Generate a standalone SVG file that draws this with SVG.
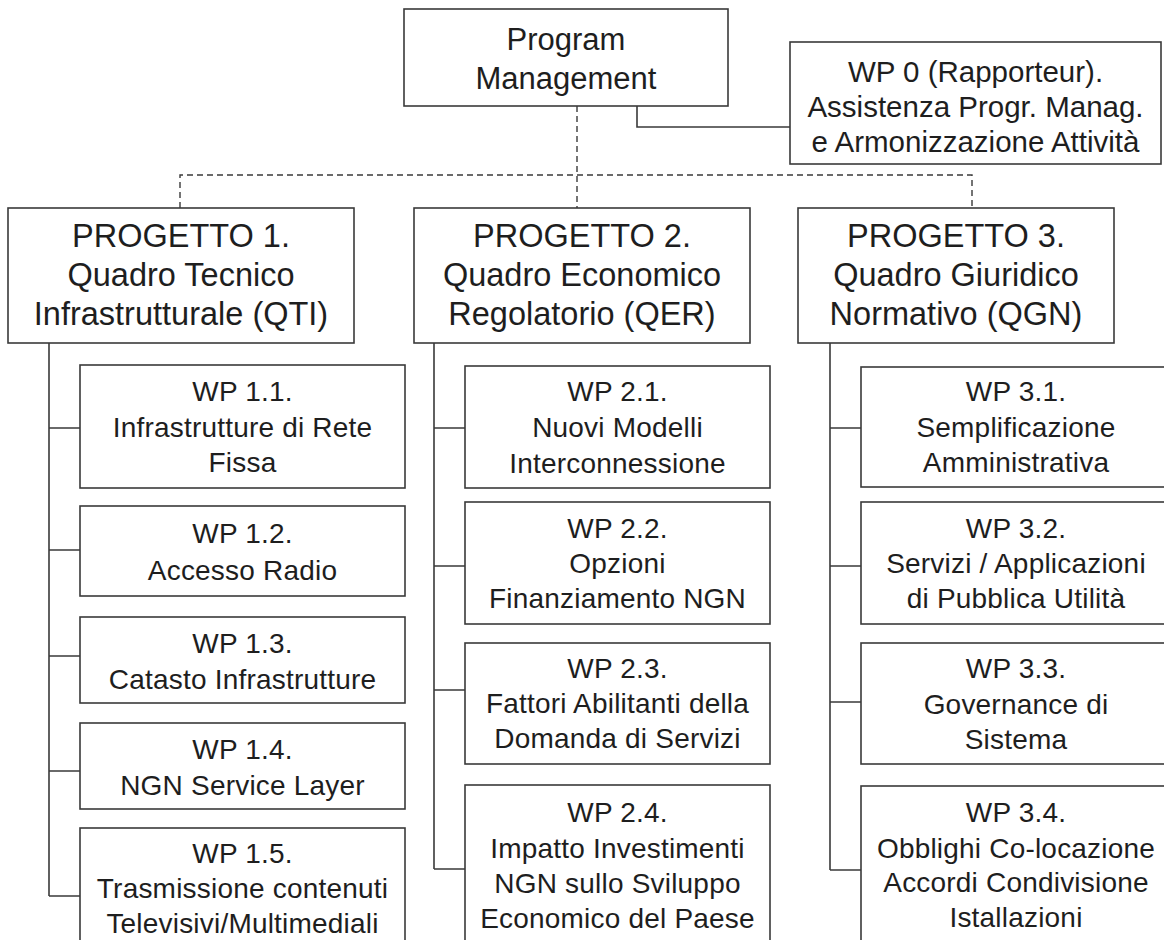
<svg xmlns="http://www.w3.org/2000/svg" width="1164" height="940" viewBox="0 0 1164 940">
<style>
rect{fill:#fff;stroke:#3a3a3a;stroke-width:1.6}
text{font-family:"Liberation Sans",Arial,sans-serif;fill:#1e1e1e;text-anchor:middle}
.pm{font-size:31px}
.big{font-size:32.5px}
.w0{font-size:29.5px}
.wp{font-size:28px;letter-spacing:0.2px}
.c{fill:none;stroke:#3a3a3a;stroke-width:1.6}
.d{fill:none;stroke:#3a3a3a;stroke-width:1.4;stroke-dasharray:6 4}
</style>
<rect x="0" y="0" width="1164" height="940" style="stroke:none"/>
<g id="connectors">
<path class="d" d="M577,106V208M180,208V175H972V208"/>
<path class="c" d="M637,106V127H790"/>
<path class="c" d="M49,343V896M49,428H80M49,550H80M49,656H80M49,771H80M49,896H80"/>
<path class="c" d="M434,343V869M434,428H465M434,566H465M434,690H465M434,869H465"/>
<path class="c" d="M830,343V870M830,428H861M830,566H861M830,702H861M830,870H861"/>
</g>
<g id="pm"><rect x="404" y="9" width="324" height="97"/><text class="pm" x="566" y="50">Program</text><text class="pm" x="566" y="89">Management</text></g>
<g id="wp0"><rect x="790" y="42" width="371" height="122"/><text class="w0" x="975.5" y="82">WP 0 (Rapporteur).</text><text class="w0" x="975.5" y="117">Assistenza Progr. Manag.</text><text class="w0" x="975.5" y="152">e Armonizzazione Attività</text></g>
<g id="p1"><rect x="8" y="208" width="346" height="135"/><text class="big" x="181" y="247">PROGETTO 1.</text><text class="big" x="181" y="286">Quadro Tecnico</text><text class="big" x="181" y="325">Infrastrutturale (QTI)</text></g>
<g id="p2"><rect x="414" y="208" width="336" height="135"/><text class="big" x="582" y="247">PROGETTO 2.</text><text class="big" x="582" y="286">Quadro Economico</text><text class="big" x="582" y="325">Regolatorio (QER)</text></g>
<g id="p3"><rect x="798" y="208" width="316" height="135"/><text class="big" x="956" y="247">PROGETTO 3.</text><text class="big" x="956" y="286">Quadro Giuridico</text><text class="big" x="956" y="325">Normativo (QGN)</text></g>
<g id="wp11"><rect x="80" y="365" width="325" height="123"/><text class="wp" x="242.5" y="401">WP 1.1.</text><text class="wp" x="242.5" y="437">Infrastrutture di Rete</text><text class="wp" x="242.5" y="472">Fissa</text></g>
<g id="wp12"><rect x="80" y="506" width="325" height="90"/><text class="wp" x="242.5" y="543">WP 1.2.</text><text class="wp" x="242.5" y="580">Accesso Radio</text></g>
<g id="wp13"><rect x="80" y="617" width="325" height="86"/><text class="wp" x="242.5" y="653">WP 1.3.</text><text class="wp" x="242.5" y="689">Catasto Infrastrutture</text></g>
<g id="wp14"><rect x="80" y="723" width="325" height="86"/><text class="wp" x="242.5" y="759">WP 1.4.</text><text class="wp" x="242.5" y="795">NGN Service Layer</text></g>
<g id="wp15"><rect x="80" y="828" width="325" height="122"/><text class="wp" x="242.5" y="863">WP 1.5.</text><text class="wp" x="242.5" y="898">Trasmissione contenuti</text><text class="wp" x="242.5" y="933">Televisivi/Multimediali</text></g>
<g id="wp21"><rect x="465" y="366" width="305" height="122"/><text class="wp" x="617.5" y="401">WP 2.1.</text><text class="wp" x="617.5" y="437">Nuovi Modelli</text><text class="wp" x="617.5" y="473">Interconnessione</text></g>
<g id="wp22"><rect x="465" y="502" width="305" height="122"/><text class="wp" x="617.5" y="538">WP 2.2.</text><text class="wp" x="617.5" y="573">Opzioni</text><text class="wp" x="617.5" y="608">Finanziamento NGN</text></g>
<g id="wp23"><rect x="465" y="643" width="305" height="121"/><text class="wp" x="617.5" y="678">WP 2.3.</text><text class="wp" x="617.5" y="713">Fattori Abilitanti della</text><text class="wp" x="617.5" y="748">Domanda di Servizi</text></g>
<g id="wp24"><rect x="465" y="785" width="305" height="165"/><text class="wp" x="617.5" y="822">WP 2.4.</text><text class="wp" x="617.5" y="858">Impatto Investimenti</text><text class="wp" x="617.5" y="893">NGN sullo Sviluppo</text><text class="wp" x="617.5" y="928">Economico del Paese</text></g>
<g id="wp31"><rect x="861" y="367" width="310" height="120"/><text class="wp" x="1016" y="401">WP 3.1.</text><text class="wp" x="1016" y="437">Semplificazione</text><text class="wp" x="1016" y="472">Amministrativa</text></g>
<g id="wp32"><rect x="861" y="502" width="310" height="122"/><text class="wp" x="1016" y="538">WP 3.2.</text><text class="wp" x="1016" y="573">Servizi / Applicazioni</text><text class="wp" x="1016" y="608">di Pubblica Utilità</text></g>
<g id="wp33"><rect x="861" y="643" width="310" height="121"/><text class="wp" x="1016" y="678">WP 3.3.</text><text class="wp" x="1016" y="714">Governance di</text><text class="wp" x="1016" y="749">Sistema</text></g>
<g id="wp34"><rect x="861" y="786" width="310" height="165"/><text class="wp" x="1016" y="822">WP 3.4.</text><text class="wp" x="1016" y="858">Obblighi Co-locazione</text><text class="wp" x="1016" y="892">Accordi Condivisione</text><text class="wp" x="1016" y="927">Istallazioni</text></g>
</svg>
